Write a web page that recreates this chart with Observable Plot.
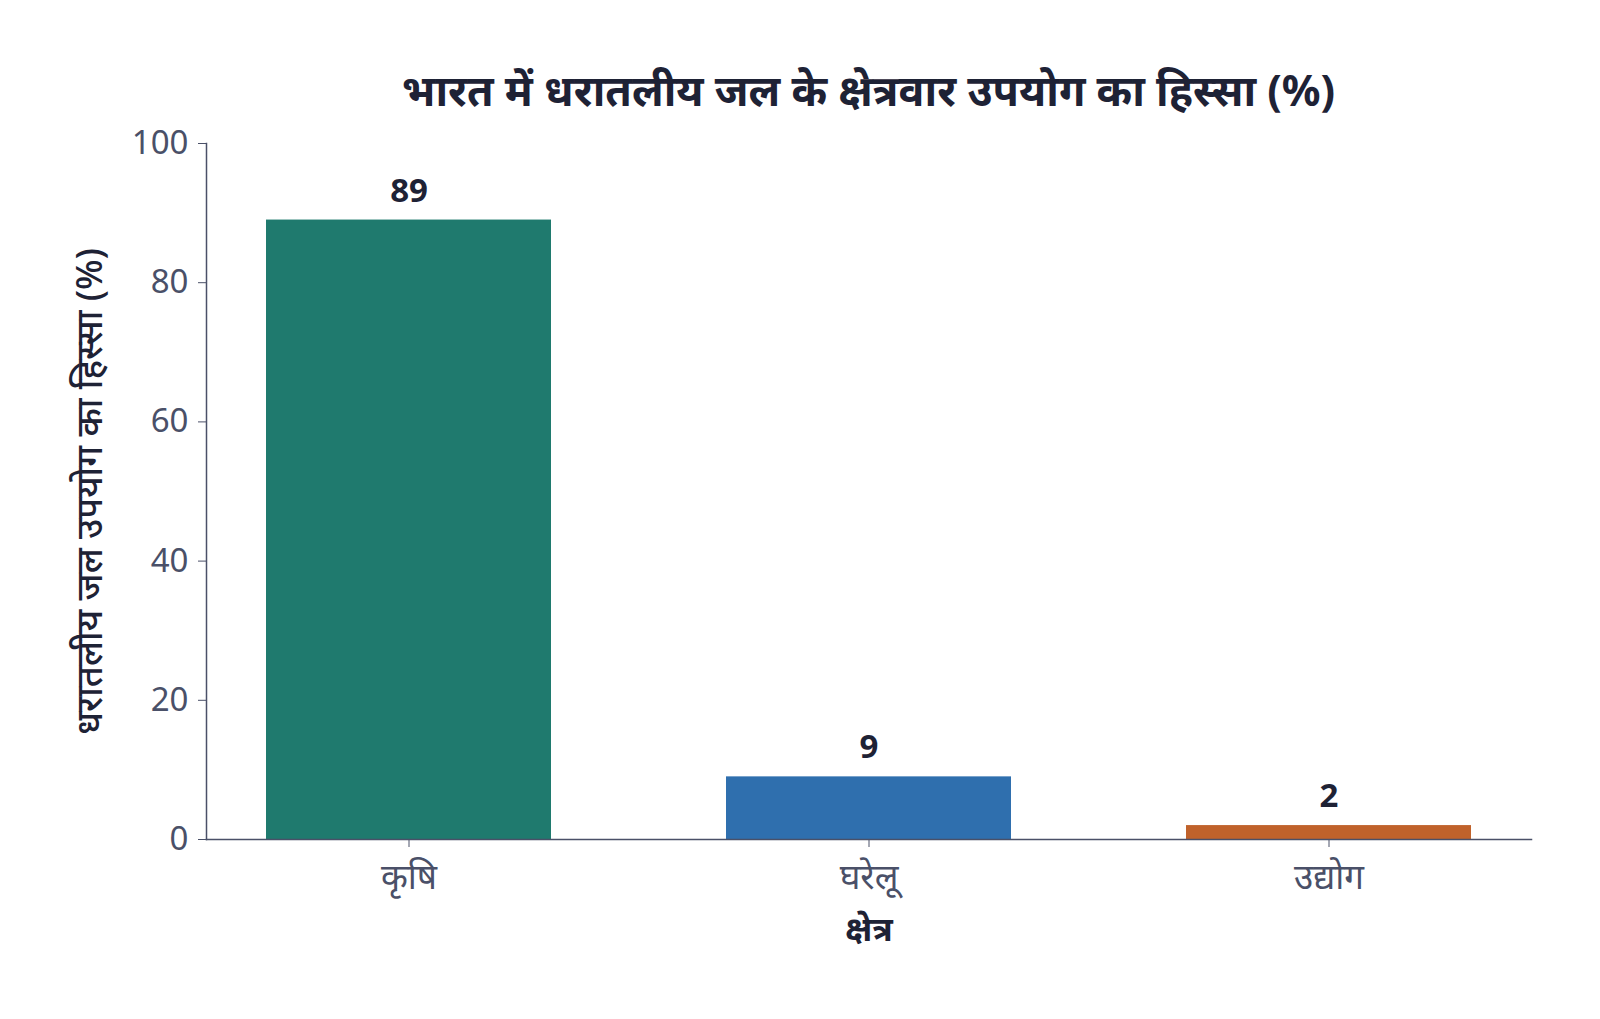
<!DOCTYPE html>
<html>
<head>
<meta charset="utf-8">
<script src="https://cdn.jsdelivr.net/npm/d3@7"></script>
<script src="https://cdn.jsdelivr.net/npm/@observablehq/plot@0.6"></script>
<style>
  html, body { margin: 0; background: #fff; overflow: hidden; font-family: "Noto Sans", "Noto Sans Devanagari", sans-serif; }
  #title { height: 120px; box-sizing: border-box; padding-top: 68px; padding-left: 137px; text-align: center;
           font-size: 43px; font-weight: 700; color: #1e2235; line-height: 1; white-space: nowrap; }
  #chart svg { display: block; }
</style>
</head>
<body>
<div id="title">भारत में धरातलीय जल के क्षेत्रवार उपयोग का हिस्सा (%)</div>
<div id="chart"></div>
<script>
const categories = ["कृषि", "घरेलू", "उद्योग"];
const shares = [89, 9, 2];
const palette = ["#1f7a6e", "#2f6fae", "#c0622b"];
const yTicks = [0, 20, 40, 60, 80, 100];
const yLabel = "धरातलीय जल उपयोग का हिस्सा (%)";
const xLabel = "क्षेत्र";

const data = categories.map((c, i) => ({ category: c, share: shares[i] }));
const axisColor = "#4a5068";
const textColor = "#1e2235";

const chart = Plot.plot({
  width: 1600,
  height: 899,
  marginLeft: 206,
  marginRight: 69,
  marginTop: 23,
  marginBottom: 180,
  style: { fontFamily: '"Noto Sans", "Noto Sans Devanagari", sans-serif', background: "#fff" },
  x: { domain: categories, paddingInner: 0.38, paddingOuter: 0.13, label: null },
  y: { domain: [0, 100], label: null },
  color: { domain: categories, range: palette },
  marks: [
    Plot.barY(data, { x: "category", y: "share", fill: "category" }),
    Plot.frame({ anchor: "left", stroke: axisColor, strokeWidth: 1.5 }),
    Plot.frame({ anchor: "bottom", stroke: axisColor, strokeWidth: 1.5 }),
    Plot.axisY({ ticks: yTicks, tickSize: 8, tickPadding: 10, fontSize: 33, color: axisColor, stroke: axisColor, label: null }),
    Plot.axisX({ tickSize: 8, tickPadding: 17, fontSize: 35, color: axisColor, stroke: axisColor, label: null }),
    Plot.text(data, { x: "category", y: "share", text: d => String(d.share), dy: -29, fontSize: 33, fontWeight: 700, fill: textColor }),
    Plot.text([yLabel], { frameAnchor: "left", dx: -116, rotate: -90, textAnchor: "middle", lineAnchor: "middle", fontSize: 36, fontWeight: 500, fill: textColor }),
    Plot.text([xLabel], { frameAnchor: "bottom", dy: 91, textAnchor: "middle", lineAnchor: "middle", fontSize: 34, fontWeight: 700, fill: textColor })
  ]
});
document.getElementById("chart").appendChild(chart);
</script>
</body>
</html>
